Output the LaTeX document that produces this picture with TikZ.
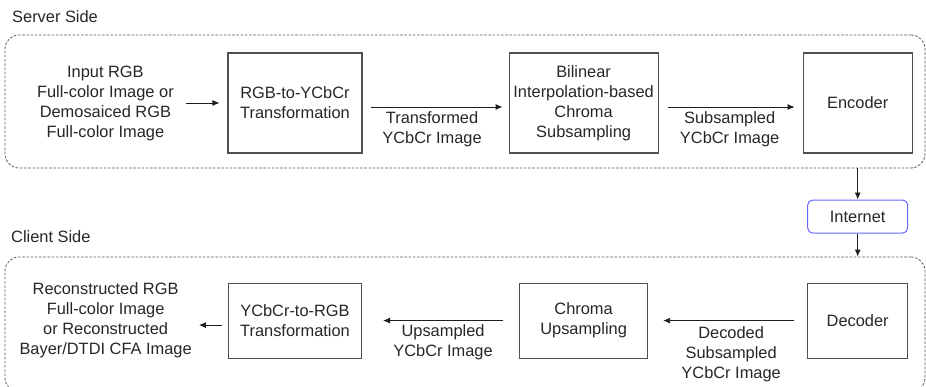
\documentclass[tikz,border=0pt]{standalone}
\usepackage{fontspec}
\setmainfont{Liberation Sans}
\usepackage{tikz}
\usetikzlibrary{positioning,arrows.meta,calc,fit}
\definecolor{cBox}{HTML}{505050}
\definecolor{cNet}{HTML}{6666FF}
\definecolor{cGrp}{HTML}{5A5A5A}
\definecolor{cArr}{HTML}{1E1E1E}
\tikzset{
  base/.style={align=center,font=\fontsize{16.4}{20}\selectfont,inner sep=0pt,text=black!85},
  box/.style={base,draw=cBox,line width=1.1pt,minimum height=100pt},
  cbox/.style={base,draw=cBox,line width=1.1pt,minimum height=75pt},
  nbox/.style={base,draw=cNet,rounded corners=5pt,line width=1pt,minimum width=100pt,minimum height=33pt},
  group/.style={draw=cGrp,rounded corners=14pt,dash pattern=on 2.6pt off 1.6pt,line width=0.8pt,inner sep=0pt},
  arr/.style={-{Latex[length=7pt,width=6pt]},line width=0.9pt,draw=cArr},
  lbl/.style={base},
  ttl/.style={base,anchor=west}}

\begin{document}
\begin{tikzpicture}[x=1pt,y=1pt,node distance=10pt and 146pt]
\useasboundingbox (0,0) rectangle (926,-387);
\node[group, fit={(5,-35) (925,-168)}] (server) {};
\node[group, fit={(5,-257) (925,-392)}] (client) {};
\node[ttl] (stitle) at (12,-17) {Server Side};
\node[ttl] (ctitle) at (11,-237) {Client Side};
\node[box, minimum width=134pt] (rgb) at (295,-103) {RGB-to-YCbCr\\Transformation};
\node[box, minimum width=149pt, right=146pt of rgb] (bil) {Bilinear\\Interpolation-based\\Chroma\\Subsampling};
\node[box, minimum width=109pt, right=144pt of bil] (enc) {Encoder};
\node[base, left=53.5pt of rgb] (inp) {Input RGB\\Full-color Image or\\Demosaiced RGB\\Full-color Image};
\node[nbox, below=46pt of enc] (inet) {Internet};
\node[cbox, minimum width=100pt, below=49pt of inet] (dec) {Decoder};
\node[cbox, minimum width=128pt, left=159pt of dec] (ups) {Chroma\\Upsampling};
\node[cbox, minimum width=133pt, left=157pt of ups] (y2r) {YCbCr-to-RGB\\Transformation};
\node[base, left=36pt of y2r] (out) {Reconstructed RGB\\Full-color Image\\or Reconstructed\\Bayer/DTDI CFA Image};
\draw[arr, shorten <=12.5pt, shorten >=8pt] (inp) -- (rgb);
\draw[arr, shorten <=8pt, shorten >=6pt] ([yshift=-4pt]rgb.east) -- ([yshift=-4pt]bil.west) node[lbl, midway, below=4pt, xshift=-3.5pt] (ltr) {Transformed\\YCbCr Image};
\draw[arr, shorten <=9pt, shorten >=8pt] ([yshift=-4pt]bil.east) -- ([yshift=-4pt]enc.west) node[lbl, midway, below=4pt, xshift=-1pt] (lsub) {Subsampled\\YCbCr Image};
\draw[arr] (inet.north |- server.south) -- (inet.north);
\draw[arr] (inet) -- (inet |- client.north);
\draw[arr, shorten <=13pt, shorten >=15pt] (dec) -- (ups) node[lbl, midway, below=6pt, xshift=3.5pt] (ldec) {Decoded\\Subsampled\\YCbCr Image};
\draw[arr, shorten <=16pt, shorten >=21pt] (ups) -- (y2r) node[lbl, midway, below=3.5pt, xshift=2.5pt] (lups) {Upsampled\\YCbCr Image};
\draw[arr, shorten <=6pt, shorten >=7pt] ([yshift=-4.5pt]y2r.west) -- ([yshift=-4.5pt]out.east);
\end{tikzpicture}
\end{document}
